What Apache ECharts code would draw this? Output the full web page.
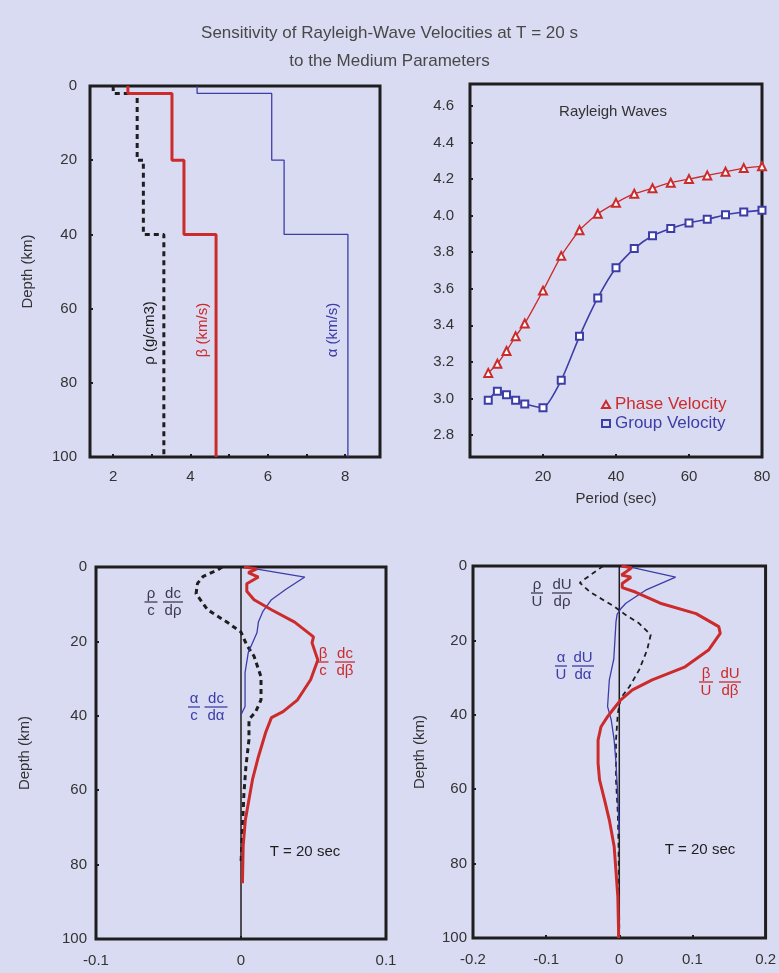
<!DOCTYPE html>
<html>
<head>
<meta charset="utf-8">
<script src="https://cdn.jsdelivr.net/npm/echarts@6/dist/echarts.min.js"></script>
<style>
  html, body { margin: 0; padding: 0; background: #d9dbf2; }
  #main { width: 779px; height: 973px; }
</style>
</head>
<body>
<div id="main"></div>
<script>
// --- model (top left): layer boundaries and values
var layerDepths = [0, 2, 20, 40, 100];
var rhoModel = [2.0, 2.62, 2.78, 3.31];
var betaModel = [2.38, 3.52, 3.83, 4.66];
var alphaModel = [4.17, 6.1, 6.42, 8.07];

// --- dispersion (top right)
var periods = [5, 7.5, 10, 12.5, 15, 20, 25, 30, 35, 40, 45, 50, 55, 60, 65, 70, 75, 80];
var phaseVel = [3.14, 3.19, 3.26, 3.34, 3.41, 3.59, 3.78, 3.92, 4.01, 4.07, 4.12, 4.15, 4.18, 4.20, 4.22, 4.24, 4.26, 4.27];
var groupVel = [2.99, 3.04, 3.02, 2.99, 2.97, 2.95, 3.10, 3.34, 3.55, 3.715, 3.82, 3.89, 3.93, 3.96, 3.98, 4.005, 4.02, 4.03];

// --- phase velocity kernels (bottom left)
var rhoDcDepth = [0, 0.8, 2.5, 4.4, 7.2, 11.5, 15, 17.5, 21, 24, 29.5, 35.7, 39, 41, 46.4, 53.6, 61, 70, 80];
var rhoDc = [-0.013, -0.016, -0.026, -0.030, -0.031, -0.023, -0.009, 0, 0.004, 0.009, 0.0138, 0.0138, 0.010, 0.0055, 0.0055, 0.0034, 0.002, 0.001, 0];
var alphaDcDepth = [0, 0.5, 2.7, 6, 8.8, 12, 14.8, 17.7, 23, 28.4, 37.5, 39.7];
var alphaDc = [0.002, 0.010, 0.044, 0.031, 0.021, 0.015, 0.012, 0.011, 0.005, 0.0028, 0.0028, 0];
var betaDcDepth = [0, 0.5, 1.5, 2.7, 4.5, 6.5, 8.8, 11.5, 14.8, 18.8, 20.4, 25, 30.3, 35.7, 38.9, 40.5, 44.5, 51, 57, 62.5, 68, 75, 85];
var betaDc = [0.002, 0.011, 0.005, 0.012, 0.004, 0.004, 0.009, 0.021, 0.037, 0.050, 0.049, 0.053, 0.048, 0.039, 0.029, 0.021, 0.017, 0.012, 0.008, 0.0055, 0.003, 0.0015, 0.001];

// --- group velocity kernels (bottom right)
var rhoDUDepth = [0, 2.5, 4.5, 7, 11, 13.2, 15.4, 18.5, 22.6, 28, 32.4, 35.5, 39.6, 46.8, 57.5, 66.5, 75.4, 98];
var rhoDU = [-0.022, -0.040, -0.054, -0.040, -0.006, 0.009, 0.027, 0.043, 0.038, 0.027, 0.014, 0.002, -0.002, -0.0045, -0.0045, -0.002, -0.001, 0];
var alphaDUDepth = [0, 0.5, 3, 6.5, 10, 11.5, 13, 15, 20, 25, 30.6, 37.8, 41.4, 46.8, 53, 62, 72];
var alphaDU = [0.004, 0.02, 0.077, 0.036, 0.009, 0.002, -0.003, -0.0045, -0.006, -0.0075, -0.0136, -0.016, -0.011, -0.007, -0.0045, -0.002, 0];
var betaDUDepth = [0, 0.5, 2.4, 3, 4.7, 5.8, 7, 10, 12.8, 16.3, 18.1, 22.6, 27.1, 30.6, 33.3, 36, 38.7, 40.5, 43.2, 46.8, 53, 57.5, 63, 68.3, 75.4, 88.9, 98, 100];
var betaDU = [0.003, 0.017, 0.003, 0.016, 0.004, 0.004, 0.022, 0.056, 0.105, 0.136, 0.138, 0.122, 0.090, 0.045, 0.018, 0.002, -0.009, -0.016, -0.025, -0.029, -0.029, -0.027, -0.020, -0.0136, -0.007, -0.002, -0.001, -0.001];

var zeroLine = [[0, 0], [0, 100]];
var velTicks = [2.8, 3.0, 3.2, 3.4, 3.6, 3.8, 4.0, 4.2, 4.4, 4.6];

var RED = '#cc2b2b', BLUE = '#3d3da8', BLACK = '#1e1e1e', TXT = '#333', INK = '#3c3c50';
var FONT = 'Liberation Sans';

function stepProfile(vals) {
  var pts = [];
  for (var i = 0; i < vals.length; i++) {
    pts.push([vals[i], layerDepths[i]]);
    pts.push([vals[i], layerDepths[i + 1]]);
  }
  return pts;
}
// kernel value on x, depth on y
function pairs(vals, depths) {
  return vals.map(function (v, i) { return [v, depths[i]]; });
}
function lineSeries(idx, data, color, width, dashed) {
  return {
    type: 'line', xAxisIndex: idx, yAxisIndex: idx, data: data,
    showSymbol: false, silent: true, z: dashed ? 3 : 4,
    lineStyle: { color: color, width: width, type: dashed ? [5, 4] : 'solid', cap: 'butt' }
  };
}
function valueAxis(o) {
  var base = {
    type: 'value',
    axisLine: { show: false, onZero: false },
    splitLine: { show: false },
    axisTick: { show: true, inside: true, length: 3, lineStyle: { color: BLACK, width: 2 } },
    axisLabel: { color: TXT, fontSize: 15, fontFamily: FONT },
    nameTextStyle: { color: TXT, fontSize: 15, fontFamily: FONT }
  };
  for (var k in o) {
    if (typeof o[k] === 'object' && base[k] && !Array.isArray(o[k])) {
      base[k] = Object.assign({}, base[k], o[k]);
    } else base[k] = o[k];
  }
  return base;
}
function depthAxis(idx, gap, margin) {
  return valueAxis({
    gridIndex: idx, inverse: true, min: 0, max: 100, interval: 20,
    name: 'Depth (km)', nameLocation: 'middle', nameGap: gap, nameRotate: 90,
    axisLabel: { margin: margin }
  });
}
function frac(cx, y, top, bot, color, w) {
  var f = '15px ' + FONT;
  return [
    { type: 'text', x: cx, y: y - 1, style: { text: top, fill: color, font: f, align: 'center', verticalAlign: 'bottom' } },
    { type: 'line', shape: { x1: cx - w / 2, y1: y, x2: cx + w / 2, y2: y }, style: { stroke: color, lineWidth: 1.3 } },
    { type: 'text', x: cx, y: y + 1, style: { text: bot, fill: color, font: f, align: 'center', verticalAlign: 'top' } }
  ];
}
function label(x, y, text, color, rot) {
  return {
    type: 'text', x: x, y: y, rotation: rot || 0,
    style: { text: text, fill: color, font: '15px ' + FONT, align: 'center', verticalAlign: 'middle' }
  };
}

var gridStyle = { show: true, borderColor: BLACK, borderWidth: 3, backgroundColor: 'transparent' };

var myChart = echarts.init(document.getElementById('main'));
var option = {
  backgroundColor: '#d9dbf2',
  animation: false,
  title: {
    text: 'Sensitivity of Rayleigh-Wave Velocities at T = 20 s\nto the Medium Parameters',
    left: 'center', top: 14,
    textStyle: { color: '#484848', fontSize: 17, fontWeight: 'normal', fontFamily: FONT, lineHeight: 28 }
  },
  grid: [
    Object.assign({ left: 90, top: 86, width: 290, height: 371 }, gridStyle),
    Object.assign({ left: 470, top: 84, width: 292, height: 373 }, gridStyle),
    Object.assign({ left: 96, top: 567, width: 290, height: 372 }, gridStyle),
    Object.assign({ left: 473, top: 566, width: 295, height: 372 }, gridStyle)
  ],
  xAxis: [
    valueAxis({ gridIndex: 0, min: 1.4, max: 8.9,
      axisLabel: { customValues: [2, 4, 6, 8], margin: 12 },
      axisTick: { customValues: [2, 3, 4, 5, 6, 7, 8] } }),
    valueAxis({ gridIndex: 1, min: 0, max: 80, interval: 20,
      name: 'Period (sec)', nameLocation: 'middle', nameGap: 34,
      axisLabel: { margin: 12, formatter: function (v) { return v === 0 ? '' : v; } } }),
    valueAxis({ gridIndex: 2, min: -0.1, max: 0.1, interval: 0.1, axisLabel: { margin: 14 } }),
    valueAxis({ gridIndex: 3, min: -0.2, max: 0.2, interval: 0.1, axisLabel: { margin: 14 } })
  ],
  yAxis: [
    depthAxis(0, 55, 13),
    valueAxis({ gridIndex: 1, min: 2.68, max: 4.72,
      axisLabel: { customValues: velTicks, margin: 16,
        formatter: function (v) { return v.toFixed(1); } },
      axisTick: { customValues: velTicks } }),
    depthAxis(2, 64, 9),
    depthAxis(3, 46, 6)
  ],
  legend: {
    left: 596, top: 391, orient: 'vertical', itemGap: 2,
    itemWidth: 8, itemHeight: 7,
    textStyle: { fontSize: 17, fontFamily: FONT },
    data: [
      { name: 'Phase Velocity', icon: 'triangle', itemStyle: { color: 'transparent', borderColor: RED, borderWidth: 2 }, textStyle: { color: RED } },
      { name: 'Group Velocity', icon: 'rect', itemStyle: { color: 'transparent', borderColor: BLUE, borderWidth: 2 }, textStyle: { color: BLUE } }
    ]
  },
  series: [
    // top left: model
    lineSeries(0, stepProfile(rhoModel), BLACK, 3, true),
    lineSeries(0, stepProfile(betaModel), RED, 3, false),
    lineSeries(0, stepProfile(alphaModel), BLUE, 1.3, false),
    // top right: dispersion
    {
      name: 'Phase Velocity', type: 'line', xAxisIndex: 1, yAxisIndex: 1,
      data: periods.map(function (p, i) { return [p, phaseVel[i]]; }), smooth: 0.2,
      symbol: 'emptyTriangle', symbolSize: 8,
      lineStyle: { color: RED, width: 1.3 }, itemStyle: { color: RED, borderWidth: 1.3 }
    },
    {
      name: 'Group Velocity', type: 'line', xAxisIndex: 1, yAxisIndex: 1,
      data: periods.map(function (p, i) { return [p, groupVel[i]]; }), smooth: 0.2,
      symbol: 'emptyRect', symbolSize: 7,
      lineStyle: { color: BLUE, width: 1.6 }, itemStyle: { color: BLUE, borderWidth: 1.3 }
    },
    // bottom left: phase kernels
    lineSeries(2, zeroLine, BLACK, 1.5, false),
    lineSeries(2, pairs(rhoDc, rhoDcDepth), BLACK, 3, true),
    lineSeries(2, pairs(alphaDc, alphaDcDepth), BLUE, 1.3, false),
    lineSeries(2, pairs(betaDc, betaDcDepth), RED, 3, false),
    // bottom right: group kernels
    lineSeries(3, zeroLine, BLACK, 1.5, false),
    lineSeries(3, pairs(rhoDU, rhoDUDepth), BLACK, 1.8, true),
    lineSeries(3, pairs(alphaDU, alphaDUDepth), BLUE, 1.3, false),
    lineSeries(3, pairs(betaDU, betaDUDepth), RED, 3, false)
  ],
  graphic: [].concat(
    [
      label(150, 333, 'ρ (g/cm3)', BLACK, Math.PI / 2),
      label(203, 330, 'β (km/s)', RED, Math.PI / 2),
      label(333, 330, 'α (km/s)', BLUE, Math.PI / 2),
      label(613, 112, 'Rayleigh Waves', TXT),
      label(305, 852, 'T = 20 sec', BLACK),
      label(700, 850, 'T = 20 sec', BLACK)
    ],
    frac(151, 602, 'ρ', 'c', INK, 13),
    frac(173, 602, 'dc', 'dρ', INK, 20),
    frac(194, 707, 'α', 'c', BLUE, 12),
    frac(216, 707, 'dc', 'dα', BLUE, 23),
    frac(323, 662, 'β', 'c', RED, 11),
    frac(345, 662, 'dc', 'dβ', RED, 20),
    frac(537, 593, 'ρ', 'U', INK, 12),
    frac(562, 593, 'dU', 'dρ', INK, 20),
    frac(561, 666, 'α', 'U', BLUE, 12),
    frac(583, 666, 'dU', 'dα', BLUE, 22),
    frac(706, 682, 'β', 'U', RED, 14),
    frac(730, 682, 'dU', 'dβ', RED, 22)
  )
};
option && myChart.setOption(option);
</script>
</body>
</html>
